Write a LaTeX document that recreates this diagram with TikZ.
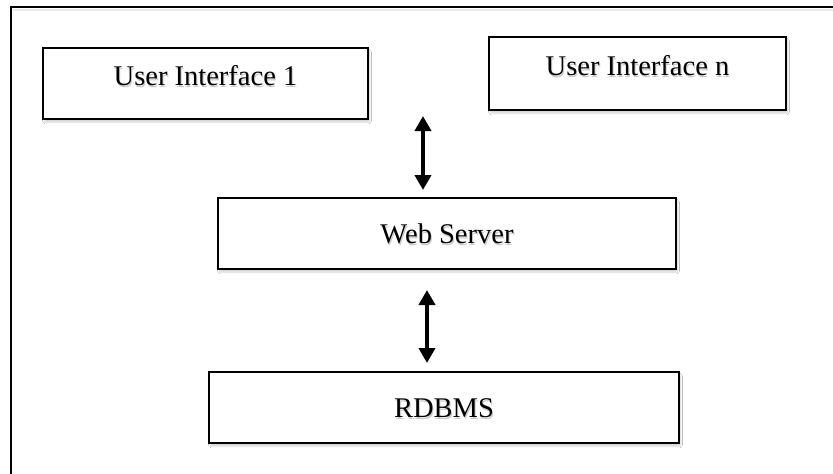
\documentclass[tikz,border=0pt]{standalone}
\usepackage{fontspec}
\setmainfont{Liberation Serif}
\usetikzlibrary{arrows.meta,shadows.blur}
\begin{document}
\begin{tikzpicture}[x=1pt,y=-1pt,
  frame/.style={draw=black,line width=2pt},
  layer/.style={draw=black,line width=2pt,fill=white,rectangle,inner sep=0pt,
    blur shadow={shadow xshift=1.5pt,shadow yshift=-3pt,shadow blur steps=6,
      shadow blur extra rounding=1pt,shadow opacity=18}},
  caption/.style={font=\fontsize{28.5}{30}\selectfont,inner sep=0pt,anchor=base},
  shade/.style={caption,text=black!45,opacity=0.45},
  link/.style={line width=4pt,{Triangle[length=15pt,width=16pt]}-{Triangle[length=15pt,width=16pt]}}
]
\useasboundingbox (0,0) rectangle (833,474);
\fill[white] (0,0) rectangle (833,474);

% outer frame, cut off at the right and bottom
\draw[frame] (11,500) -- (11,7) -- (860,7);
\fill[black!8] (13,9) rectangle (833,11);

% boxes
\node[layer,minimum width=325pt,minimum height=71pt] (ui1) at (205.5,83.5) {};
\node[layer,minimum width=297pt,minimum height=73pt] (uin) at (637.5,73.5) {};
\node[layer,minimum width=458pt,minimum height=71pt] (ws) at (447,233.5) {};
\node[layer,minimum width=470pt,minimum height=71pt] (db) at (444,407.5) {};

% captions with a soft shadow beneath
\foreach \n/\dy/\t in {ui1/1.5/User Interface 1, uin/1.5/User Interface n, ws/9.5/Web Server, db/9.5/RDBMS}{
  \node[shade] at ([xshift=1pt,yshift=-\dy pt-2.5pt]\n.center) {\t};
  \node[caption] (\n-text) at ([yshift=-\dy pt]\n.center) {\t};
}

% connectors
\coordinate (a1top) at (423,116);
\coordinate (a1bot) at (423,190);
\coordinate (a2top) at (427,290);
\coordinate (a2bot) at (427,363);
\draw[link] (a1top) -- (a1bot);
\draw[link] (a2top) -- (a2bot);
\end{tikzpicture}
\end{document}
